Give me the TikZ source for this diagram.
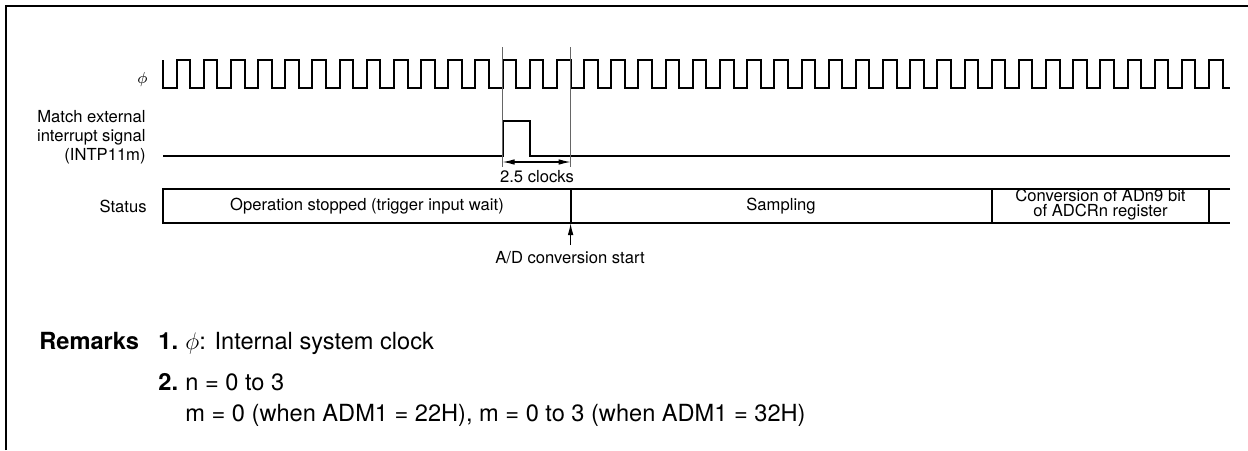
\documentclass[tikz,border=0pt]{standalone}
\usepackage{fontspec}
\setmainfont{TeX Gyre Heros}
\usetikzlibrary{arrows.meta}

\begin{document}
\begin{tikzpicture}[x=0.5pt, y=-0.5pt,
            frame/.style={line width=1.3pt},
            wave/.style={line width=1pt, line join=miter},
            box/.style={line width=1.1pt},
            guide/.style={gray!80!black, line width=0.5pt},
            dim/.style={{Latex[length=6pt,width=2.8pt]}-{Latex[length=6pt,width=2.8pt]}, line width=0.6pt},
            arr/.style={-{Latex[length=6pt,width=2.8pt]}, line width=0.6pt},
            lbl/.style={font=\fontsize{8.3}{9.5}\selectfont, inner sep=0pt},
            cell/.style={font=\fontsize{8.3}{7.5}\selectfont, align=center, inner sep=0pt},
            rmk/.style={font=\fontsize{11.8}{14}\selectfont, inner sep=0pt, anchor=base west}
        ]
            \useasboundingbox (0,0) rectangle (1248,450);

            % --- 枠 ---
            \draw[frame] (6,450) -- (6,6) -- (1248,6);

            % --- 信号名 ---
            \node[lbl, anchor=east] (lphi) at (148,79) {$\phi$};
            \node[lbl, anchor=east, align=right] (lint) at (146,137) {Match external\\interrupt signal\\(INTP11m)};
            \node[lbl, anchor=east] (lstat) at (147,206) {Status};

            % --- クロック ---
            \def\hp{13.585}
            \draw[wave] (163,60) \foreach \k in {1,...,39} { -- ++(0,27.5) -- ++(\hp,0) -- ++(0,-27.5) -- ++(\hp,0) } -- ++(0,27.5) -- (1230,87.5);

            % --- 割込み信号 ---
            \draw[wave] (163,155.5) -- (502.6,155.5) -- (502.6,121) -- (529.8,121) -- (529.8,155.5) -- (1230,155.5);

            % --- 補助線と 2.5 clocks ---
            \coordinate (ta) at (502.6,47);
            \coordinate (tb) at (570.6,47);
            \draw[guide] (ta) -- ++(0,120);
            \draw[guide] (tb) -- ++(0,120);
            \coordinate (da) at (502.6,162);
            \coordinate (db) at (570.6,162);
            \draw[dim] (da) -- (db);
            \node[lbl] (lclk) at (537,177) {2.5 clocks};

            % --- ステータス ---
            \draw[box] (1230,189) -- (163,189) -- (163,223) -- (1230,223);
            \draw[box] (570.6,189) -- (570.6,223);
            \draw[box] (992,189) -- (992,223);
            \draw[box] (1209,189) -- (1209,223);
            \node[lbl] (s1) at (367,206) {Operation stopped (trigger input wait)};
            \node[lbl] (s2) at (781,206) {Sampling};
            \node[cell] (s3) at (1100.5,205) {Conversion of ADn9 bit\\of ADCRn register};

            % --- A/D 変換開始 ---
            \coordinate (tst) at (570.6,223);
            \coordinate (tbot) at (570.6,245);
            \draw[arr] (tbot) -- (tst);
            \node[lbl] (adst) at (570,258) {A/D conversion start};

            % --- 注記 ---
            \node[rmk] (rk) at (39,349.5) {\bfseries Remarks};
            \node[rmk] (rk1) at (158,349.5) {\bfseries 1.};
            \node[rmk] (rk1t) at (185,349.5) {$\phi$: Internal system clock};
            \node[rmk] (rk2) at (158,390) {\bfseries 2.};
            \node[rmk] (rk2t) at (185,390) {n = 0 to 3};
            \node[rmk] (rk3t) at (185,421) {m = 0 (when ADM1 = 22H), m = 0 to 3 (when ADM1 = 32H)};
        \end{tikzpicture}
\end{document}
